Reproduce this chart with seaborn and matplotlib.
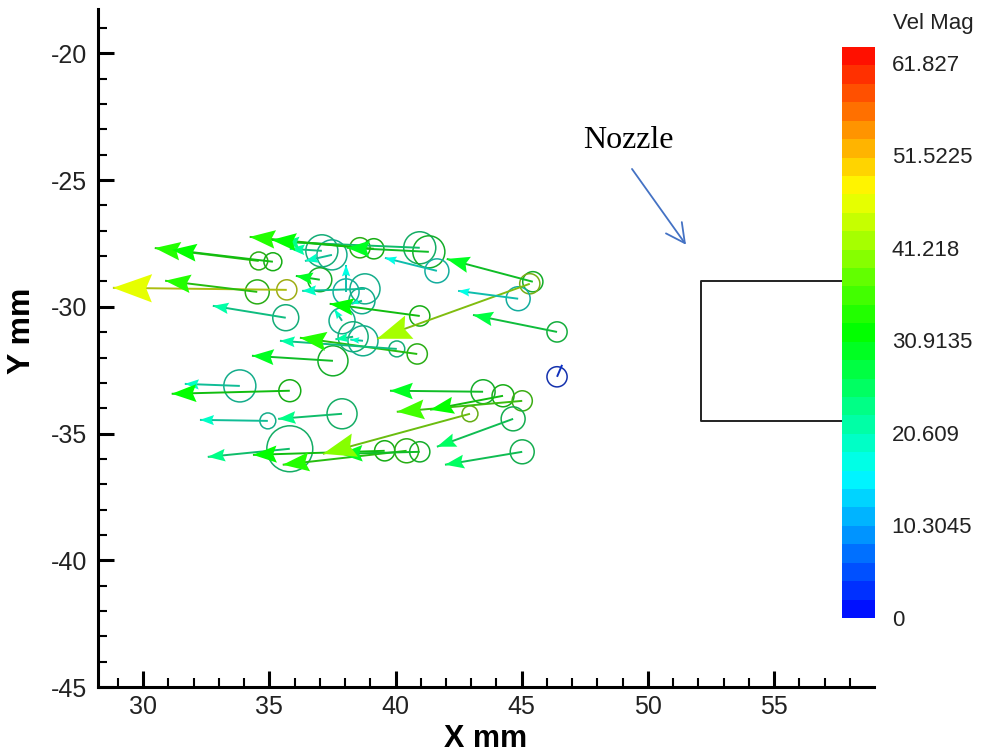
import numpy as np
import pandas as pd
import matplotlib
matplotlib.use("Agg")
import matplotlib.pyplot as plt
from matplotlib.colors import LinearSegmentedColormap, ListedColormap, Normalize
from matplotlib.cm import ScalarMappable
from matplotlib.collections import LineCollection
from matplotlib.ticker import MultipleLocator
import seaborn as sns

# Particle centres (mm), diameters (mm), in-plane velocity vectors (mm) and velocity magnitude
part_x = [35.69, 34.58, 35.14, 37.08, 37.48, 40.96, 41.32, 38.59, 39.14, 41.64,
          45.44, 45.32, 44.86, 46.40, 46.40, 40.96, 35.65, 34.52, 37.00, 38.04,
          38.79, 38.67, 40.86, 40.05, 37.88, 37.52, 38.32, 38.71, 33.83, 35.81,
          37.88, 34.94, 35.81, 39.57, 40.44, 40.96, 42.95, 43.47, 44.26, 45.02,
          44.66, 45.02]
part_y = [-29.33, -28.19, -28.22, -27.79, -27.95, -27.67, -27.83, -27.67, -27.71, -28.58,
          -29.01, -29.09, -29.68, -30.99, -32.76, -30.36, -30.43, -29.41, -28.93, -29.41,
          -29.29, -29.76, -31.86, -31.66, -30.55, -32.13, -31.18, -31.34, -33.12, -33.31,
          -34.22, -34.50, -35.60, -35.68, -35.68, -35.72, -34.22, -33.35, -33.51, -33.71,
          -34.42, -35.72]
part_d = [0.80, 0.71, 0.71, 1.27, 1.19, 1.27, 1.27, 0.80, 0.80, 0.95,
          0.80, 0.80, 0.95, 0.80, 0.80, 0.80, 1.03, 0.95, 0.95, 1.03,
          1.19, 1.03, 0.80, 0.63, 1.03, 1.19, 1.19, 1.19, 1.27, 0.87,
          1.19, 0.63, 1.82, 0.80, 0.95, 0.80, 0.63, 0.95, 0.87, 0.80,
          0.95, 0.95]
vec_u = [-6.89, -4.12, -4.00, -1.27, -1.07, -5.43, -3.25, -4.37, -4.05, -2.06,
         -3.41, -6.05, -2.38, -3.33, 0.20, -3.57, -2.89, -3.65, -0.95, 0.00,
         -2.49, -0.40, -4.65, -4.63, -0.30, -3.21, -0.70, -0.50, -2.18, -4.68,
         -2.53, -2.69, -3.25, -5.22, -4.91, -3.17, -5.83, -3.69, -2.89, -4.97,
         -3.02, -3.06]
vec_v = [0.08, 0.51, 0.47, 0.08, -0.24, 0.23, 0.16, 0.43, 0.35, 0.51,
         0.90, -2.17, 0.31, 0.67, 0.47, 0.48, 0.47, 0.44, 0.15, 1.07,
         -0.08, -0.12, 0.64, 0.32, 0.45, 0.20, -0.10, 0.05, 0.08, -0.12,
         -0.20, 0.04, -0.32, -0.16, -0.55, -0.08, -1.58, 0.04, -0.55, -0.43,
         -1.10, -0.51]
vel_mag = [47, 33, 32, 21, 19, 23, 30, 33, 32, 17,
           30, 42, 17, 27, 3, 31, 22, 33, 29, 17,
           20, 19, 34, 21, 20, 29, 21, 19, 20, 32,
           24, 20, 24, 31, 34, 30, 41, 30, 31, 35,
           26, 26]

# Nozzle outline (mm)
nozzle_x = [58.0, 52.1, 52.1, 58.0]
nozzle_y = [-29.0, -29.0, -34.5, -34.5]

# Colour legend
cbar_max = 63.6
cbar_ticks = [0, 10.3045, 20.609, 30.9135, 41.218, 51.5225, 61.827]
cbar_labels = ["0", "10.3045", "20.609", "30.9135", "41.218", "51.5225", "61.827"]
n_bands = 31

df = pd.DataFrame({"x": part_x, "y": part_y, "d": part_d,
                   "u": vec_u, "v": vec_v, "speed": vel_mag})

sns.set_theme(style="ticks")
plt.rcParams["font.family"] = ["Liberation Sans", "DejaVu Sans"]
plt.rcParams["axes.unicode_minus"] = False

fig = plt.figure(figsize=(9.85, 7.52), dpi=100)
fig.patch.set_facecolor("white")
ax = fig.add_axes([0.0995, 0.0864, 0.7878, 0.9016])
ax.set_xlim(28.21, 58.96)
ax.set_ylim(-45, -18.25)

rainbow = LinearSegmentedColormap.from_list(
    "small_rainbow", ["#0000ff", "#00ffff", "#00ff00", "#ffff00", "#ff0000"])
bands = ListedColormap(rainbow((np.arange(n_bands) + 0.5) / n_bands))
norm = Normalize(0, cbar_max)
colors = bands(norm(df["speed"].to_numpy()))

# Particle outlines: marker diameter follows particle diameter in data units
ppm = ax.transData.transform((1, 0))[0] - ax.transData.transform((0, 0))[0]
sizes = (df["d"].to_numpy() * ppm * 72 / fig.dpi) ** 2
sns.scatterplot(data=df, x="x", y="y", hue="speed", palette=bands, hue_norm=norm,
                s=sizes, legend=False, linewidth=1.1, ax=ax, zorder=2)
circ = ax.collections[-1]
circ.set_sizes(sizes)
edge = colors.copy()
edge[:, :3] = edge[:, :3] * 0.6 + 0.08
circ.set_edgecolors(edge)
circ.set_facecolors("none")

# Velocity vectors: thin shafts plus filled heads sized by magnitude
shaft_col = colors.copy()
shaft_col[:, :3] = shaft_col[:, :3] * 0.68 + 0.06
segs = [[(r.x, r.y), (r.x + r.u, r.y + r.v)] for r in df.itertuples()]
ax.add_collection(LineCollection(segs, colors=shaft_col, linewidths=1.4, zorder=3))
for r, c in zip(df.itertuples(), colors):
    length = np.hypot(r.u, r.v)
    hl = min(1.55 * (r.speed / 47.0) ** 1.2, 0.7 * length)
    ax.arrow(r.x, r.y, r.u, r.v, width=0, head_width=0.72 * hl, head_length=hl,
             length_includes_head=True, overhang=0.15, fc=c, ec="none", lw=0,
             zorder=4)

# Nozzle
ax.plot(nozzle_x, nozzle_y, color="#222222", lw=1.4, zorder=2)
ax.text(47.43, -23.73, "Nozzle", family=["Liberation Serif"], fontsize=23,
        va="baseline", ha="left", color="black")
ax.annotate("", xy=(51.51, -27.55), xytext=(49.37, -24.56),
            arrowprops=dict(arrowstyle="->,head_length=0.68,head_width=0.35",
                            color="#4472c4", lw=1.3, shrinkA=0, shrinkB=0,
                            mutation_scale=20))

# Axes styling
for s in ["top", "right"]:
    ax.spines[s].set_visible(False)
for s in ["left", "bottom"]:
    ax.spines[s].set_linewidth(2.2)
    ax.spines[s].set_color("black")
ax.xaxis.set_major_locator(MultipleLocator(5))
ax.xaxis.set_minor_locator(MultipleLocator(1))
ax.yaxis.set_major_locator(MultipleLocator(5))
ax.yaxis.set_minor_locator(MultipleLocator(1))
ax.tick_params(which="major", direction="in", length=11.5, width=2.2,
               labelsize=18, pad=8, color="black", labelcolor="#222222",
               bottom=True, left=True)
ax.tick_params(axis="x", which="major", pad=6)
ax.tick_params(which="minor", direction="in", length=6.5, width=1.5,
               color="black", bottom=True, left=True)
ax.set_xlabel("X mm", fontsize=22, fontweight="bold", color="black")
ax.set_ylabel("Y mm", fontsize=23, fontweight="bold", color="black")
ax.xaxis.set_label_coords(0.5, -0.054)
ax.yaxis.set_label_coords(-0.079, 0.525)

# Colour bar
cax = fig.add_axes([0.8548, 0.1782, 0.0335, 0.7593])
cax.set_zorder(5)
cb = fig.colorbar(ScalarMappable(norm=norm, cmap=bands), cax=cax, ticks=cbar_ticks)
cb.set_ticklabels(cbar_labels)
cb.outline.set_visible(False)
cax.tick_params(length=0, labelsize=16, pad=12, labelcolor="#222222")
fig.text(893 / 985, 1 - 24 / 752, "Vel Mag", ha="left", va="center",
         fontsize=16, color="#222222")

fig.savefig("out.png", dpi=100, facecolor="white")
